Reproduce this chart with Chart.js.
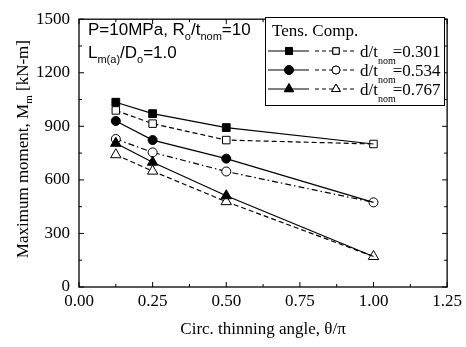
<!DOCTYPE html>
<html><head><meta charset="utf-8">
<script src="https://cdn.jsdelivr.net/npm/chart.js@4"></script>
<style>html,body{margin:0;padding:0;background:#fff}#w{width:466px;height:347px;position:relative}</style>
</head><body><div id="w"><canvas id="c"></canvas></div>
<script>
// ---- data ----
const angles  = [0.125, 0.25, 0.5, 1.0];
const tens301 = [1035, 971, 893, 801];
const comp301 = [989, 915, 823, 801];
const tens534 = [930, 823, 719, 474];
const comp534 = [829, 754, 647, 474];
const tens767 = [805, 699, 511, 171];
const comp767 = [741, 649, 478, 171];
const xTicks = [0, 0.25, 0.5, 0.75, 1.0, 1.25];
const yTicks = [0, 300, 600, 900, 1200, 1500];
const ratios = ['0.301', '0.534', '0.767'];
const xTitle = 'Circ. thinning angle, \u03b8/\u03c0';

const SERIF = '"Liberation Serif", "Times New Roman", serif';
const SANS = '"Liberation Sans", Arial, sans-serif';

const pts = arr => arr.map((v, i) => ({x: angles[i], y: v}));
function mk(arr, shape, filled, dash, r, hideLast) {
  return {
    data: pts(arr),
    borderColor: '#000',
    borderWidth: 1.2,
    borderDash: dash,
    backgroundColor: filled ? '#000' : '#fff',
    pointStyle: shape,
    pointRadius: ctx => (hideLast && ctx.dataIndex === arr.length - 1) ? 0 : r,
    pointHoverRadius: r,
    pointBorderColor: '#000',
    pointBackgroundColor: filled ? '#000' : '#fff',
    pointBorderWidth: 1,
    fill: false,
    tension: 0
  };
}
const datasets = [
  mk(tens301, 'rect', true, [], 5.5, true),
  mk(tens534, 'circle', true, [], 4.5, true),
  mk(tens767, 'triangle', true, [], 6, true),
  mk(comp301, 'rect', false, [5, 3], 5.3, false),
  mk(comp534, 'circle', false, [6, 3, 1.5, 3], 4.5, false),
  mk(comp767, 'triangle', false, [5, 3], 6, false)
];

function segWidth(ctx, segs, size, subSize, family) {
  let w = 0;
  for (const s of segs) {
    ctx.font = (s.sub ? subSize : size) + 'px ' + family;
    w += ctx.measureText(s.t).width + (s.gap || 0);
  }
  return w;
}
function drawSeg(ctx, x, y, segs, size, subSize, family) {
  for (const s of segs) {
    const fs = s.sub ? subSize : size;
    ctx.font = fs + 'px ' + family;
    ctx.fillText(s.t, x, y + (s.sub ? s.dy || 5 : 0));
    x += ctx.measureText(s.t).width + (s.gap || 0);
  }
  return x;
}

const framePlugin = {
  id: 'frame',
  afterDraw(chart) {
    const {ctx, chartArea: a, scales: {x, y}} = chart;
    ctx.save();
    ctx.strokeStyle = '#000';
    ctx.lineWidth = 1.3;
    ctx.strokeRect(a.left, a.top, a.right - a.left, a.bottom - a.top);
    ctx.lineWidth = 1;
    ctx.beginPath();
    for (let i = 0; i < xTicks.length; i++) {
      const px = x.getPixelForValue(xTicks[i]);
      ctx.moveTo(px, a.bottom); ctx.lineTo(px, a.bottom - 5);
      ctx.moveTo(px, a.top); ctx.lineTo(px, a.top + 5);
      if (i < xTicks.length - 1) {
        const mx = x.getPixelForValue((xTicks[i] + xTicks[i + 1]) / 2);
        ctx.moveTo(mx, a.bottom); ctx.lineTo(mx, a.bottom - 3);
        ctx.moveTo(mx, a.top); ctx.lineTo(mx, a.top + 3);
      }
    }
    for (let i = 0; i < yTicks.length; i++) {
      const py = y.getPixelForValue(yTicks[i]);
      ctx.moveTo(a.left, py); ctx.lineTo(a.left + 5, py);
      ctx.moveTo(a.right, py); ctx.lineTo(a.right - 5, py);
      if (i < yTicks.length - 1) {
        const my = y.getPixelForValue((yTicks[i] + yTicks[i + 1]) / 2);
        ctx.moveTo(a.left, my); ctx.lineTo(a.left + 3, my);
        ctx.moveTo(a.right, my); ctx.lineTo(a.right - 3, my);
      }
    }
    ctx.stroke();

    ctx.fillStyle = '#000';
    ctx.textBaseline = 'alphabetic';
    ctx.textAlign = 'left';

    // y-axis title with real subscript
    const ySegs = [{t: 'Maximum moment, M'}, {t: 'm', sub: true, dy: 4}, {t: ' [kN-m]'}];
    const tw = segWidth(ctx, ySegs, 17, 11, SERIF);
    ctx.save();
    ctx.translate(28, (a.top + a.bottom) / 2 - 4);
    ctx.rotate(-Math.PI / 2);
    drawSeg(ctx, -tw / 2, 0, ySegs, 17, 11, SERIF);
    ctx.restore();

    // annotation
    drawSeg(ctx, a.left + 9, 35, [
      {t: 'P=10MPa, R'}, {t: 'o', sub: true}, {t: '/t'}, {t: 'nom', sub: true}, {t: '=10'}
    ], 17, 11, SANS);
    drawSeg(ctx, a.left + 9, 58, [
      {t: 'L'}, {t: 'm(a)', sub: true}, {t: '/D'}, {t: 'o', sub: true}, {t: '=1.0'}
    ], 17, 11, SANS);

    // legend
    const L = 265, T = 17, R = 444, B = 105;
    ctx.fillStyle = '#fff';
    ctx.fillRect(L, T, R - L, B - T);
    ctx.lineWidth = 1;
    ctx.strokeRect(L + 0.5, T + 0.5, R - L, B - T);
    ctx.fillStyle = '#000';
    ctx.font = '17px ' + SERIF;
    ctx.fillText('Tens. Comp.', 272, 36);
    const rowY = [51, 70, 89];
    const shapes = ['rect', 'circle', 'triangle'];
    const radii = [5, 4.5, 5.5];
    const dashes = [[4, 3], [4, 3], [4, 3]];
    for (let i = 0; i < 3; i++) {
      const ry = rowY[i];
      ctx.setLineDash([]);
      ctx.lineWidth = 1.2;
      ctx.beginPath(); ctx.moveTo(268, ry); ctx.lineTo(309, ry); ctx.stroke();
      ctx.setLineDash(dashes[i]);
      ctx.beginPath(); ctx.moveTo(315, ry); ctx.lineTo(356, ry); ctx.stroke();
      ctx.setLineDash([]);
      ctx.lineWidth = 1;
      ctx.fillStyle = '#000';
      Chart.helpers.drawPoint(ctx, {pointStyle: shapes[i], radius: radii[i], borderWidth: 1}, 289, ry);
      ctx.fill();
      ctx.fillStyle = '#fff';
      Chart.helpers.drawPoint(ctx, {pointStyle: shapes[i], radius: radii[i] - 0.5, borderWidth: 1}, 336, ry);
      ctx.fill(); ctx.stroke();
      ctx.fillStyle = '#000';
      drawSeg(ctx, 360, ry + 6, [
        {t: 'd/t', gap: 0}, {t: 'nom', sub: true, dy: 7, gap: -3}, {t: '=' + ratios[i]}
      ], 17, 10, SERIF);
    }
    ctx.restore();
  }
};

new Chart(document.getElementById('c'), {
  type: 'line',
  data: {datasets},
  options: {
    responsive: true,
    maintainAspectRatio: false,
    animation: false,
    events: [],
    layout: {padding: {left: 0, right: 17, top: 14, bottom: 0}},
    plugins: {legend: {display: false}, tooltip: {enabled: false}},
    scales: {
      x: {
        type: 'linear', min: 0, max: 1.25,
        afterFit: s => { s.height = 60; },
        afterBuildTicks: s => { s.ticks = xTicks.map(v => ({value: v})); },
        grid: {display: false, drawTicks: false},
        border: {display: false},
        ticks: {
          color: '#000', padding: 4, maxRotation: 0,
          font: {family: SERIF, size: 17},
          callback: v => v.toFixed(2)
        },
        title: {display: true, text: xTitle, color: '#000',
                font: {family: SERIF, size: 17}, padding: {top: 0, bottom: 7}}
      },
      y: {
        type: 'linear', min: 0, max: 1500,
        afterFit: s => { s.width = 79; },
        afterBuildTicks: s => { s.ticks = yTicks.map(v => ({value: v})); },
        grid: {display: false, drawTicks: false},
        border: {display: false},
        ticks: {
          color: '#000', padding: 9,
          font: {family: SERIF, size: 17},
          callback: v => String(v)
        },
        title: {display: false}
      }
    }
  },
  plugins: [framePlugin]
});
</script>
</body></html>
